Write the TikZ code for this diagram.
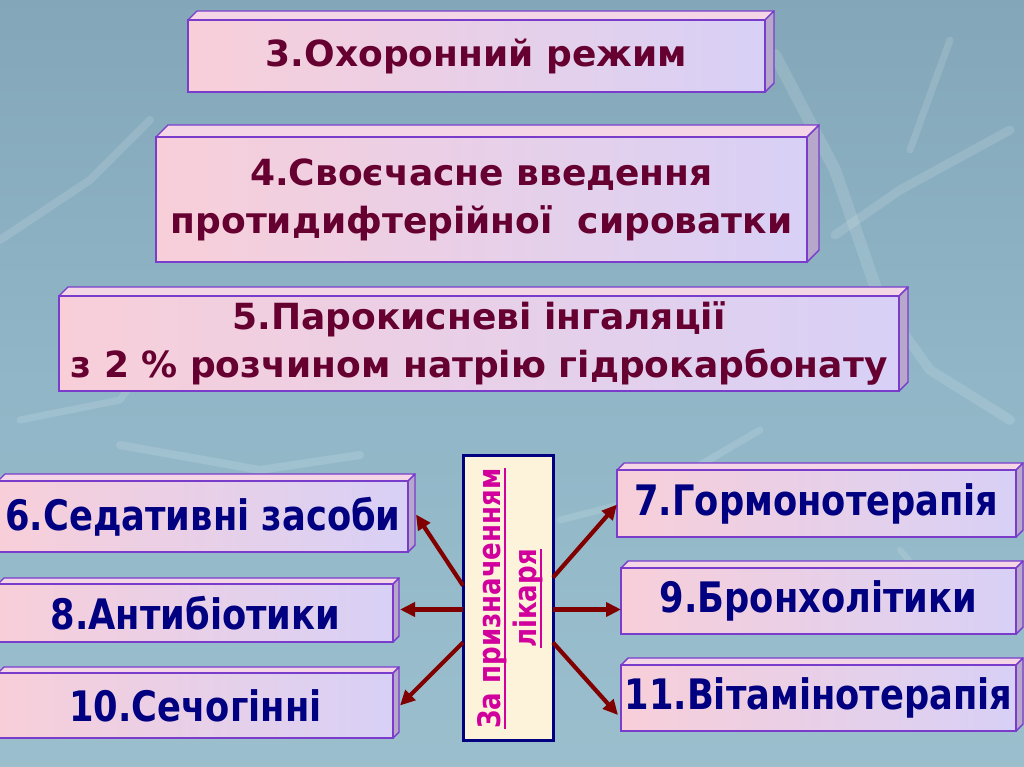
\documentclass[tikz,border=0pt]{standalone}
\usepackage{fontspec}
\setmainfont{DejaVu Sans}[FakeStretch=0.84]
\newfontfamily\topfont{DejaVu Sans}
\usetikzlibrary{arrows.meta,calc}
\definecolor{bgtop}{HTML}{4E6877}
\definecolor{bgupper}{HTML}{7A9CAE}
\definecolor{bgmid}{HTML}{90B6C7}
\definecolor{bglow}{HTML}{A4C6D2}
\definecolor{bgband}{HTML}{8A9EA6}
\definecolor{bgbot}{HTML}{5E707A}
\definecolor{facepink}{HTML}{F8CFD9}
\definecolor{facelav}{HTML}{D8D0F6}
\definecolor{toppink}{HTML}{F4D6E6}
\definecolor{sidegrey}{HTML}{B7A7CB}
\definecolor{edgepurple}{HTML}{7A3CCB}
\definecolor{maroontext}{HTML}{650030}
\definecolor{navytext}{HTML}{000080}
\definecolor{arrowred}{HTML}{800000}
\definecolor{cream}{HTML}{FCF3DA}
\definecolor{magtext}{HTML}{D1009C}
\pgfdeclareverticalshading{bgshade}{100bp}{color(0bp)=(bgbot); color(2.4bp)=(bgband); color(3.2bp)=(bglow); color(50bp)=(bgmid); color(93bp)=(bgupper); color(100bp)=(bgtop)}
\newcommand{\thickul}[1]{\setbox0=\hbox{#1}\leavevmode\rlap{\rule[-0.2em]{\wd0}{0.075em}}\box0}
\tikzset{
  slabface/.style={draw=edgepurple, line width=1.4pt, left color=facepink, right color=facelav, inner sep=0pt, outer sep=0pt, align=center},
  slabtop/.style={draw=edgepurple, line width=1.4pt, fill=toppink, line join=round},
  slabside/.style={draw=edgepurple, line width=1.4pt, fill=sidegrey, line join=round},
  toptext/.style={text=maroontext, font=\topfont\bfseries\fontsize{36}{48}\selectfont},
  sidetext/.style={text=navytext, font=\bfseries\fontsize{42}{50}\selectfont},
  arr/.style={draw=arrowred, line width=4.2pt, -{Triangle[length=15pt,width=14pt]}},
  streak/.style={draw=white, opacity=0.13, line cap=round, line join=round},
}
% name, x1, y1, x2, y2, depth, style, text
\newcommand{\slabbox}[8]{%
  \fill[slabtop] (#2,#3) -- ++(#6,-#6) -- ($(#4,#3)+(#6,-#6)$) -- (#4,#3) -- cycle;
  \fill[slabside] (#4,#3) -- ++(#6,-#6) -- ($(#4,#5)+(#6,-#6)$) -- (#4,#5) -- cycle;
  \node[slabface, #7, minimum width={#4-(#2)}, minimum height={#5-(#3)}] (#1) at ({(#2+#4)/2},{(#3+#5)/2}) {#8};
}
\begin{document}
\begin{tikzpicture}[x=1pt,y=-1pt]
\useasboundingbox (0,0) rectangle (1024,767);
\shade[shading=bgshade] (0,0) rectangle (1024,767);
% faint background streaks
\draw[streak, line width=12pt] (775,55) -- (835,170) -- (880,300);
\draw[streak, line width=9pt] (1010,130) -- (900,190) -- (835,235);
\draw[streak, line width=7pt] (950,40) -- (910,150);
\draw[streak, line width=10pt] (880,300) -- (930,370) -- (1010,420);
\draw[streak, line width=8pt] (0,240) -- (90,180) -- (150,120);
\draw[streak, line width=7pt] (20,420) -- (120,400) -- (170,330);
\draw[streak, line width=8pt] (120,445) -- (260,470) -- (360,455);
\draw[streak, line width=7pt] (560,520) -- (640,500) -- (760,430);
\draw[streak, line width=6pt] (900,550) -- (960,620);

\slabbox{b3}{188}{20}{765}{92}{9}{toptext}{3.Охоронний режим}
\slabbox{b4}{156}{137}{807}{262}{12}{toptext}{4.Своєчасне введення\\протидифтерійної\ \ сироватки}
\slabbox{b5}{59}{296}{899}{391}{9}{toptext}{5.Парокисневі інгаляції\\з 2 \% розчином натрію гідрокарбонату}
\slabbox{b6}{-2}{481}{408}{552}{7}{sidetext}{6.Седативні засоби}
\slabbox{b8}{-2}{584}{393}{642}{6}{sidetext}{8.Антибіотики}
\slabbox{b10}{-2}{673}{393}{738}{6}{sidetext}{10.Сечогінні}
\slabbox{b7}{617}{470}{1016}{537}{7}{sidetext}{7.Гормонотерапія}
\slabbox{b9}{621}{568}{1016}{634}{7}{sidetext}{9.Бронхолітики}
\slabbox{b11}{621}{665}{1016}{731}{7}{sidetext}{11.Вітамінотерапія}

\node[draw=navytext, line width=3pt, fill=cream, minimum width=90, minimum height=285, inner sep=0pt, outer sep=0pt] (c) at (508,597.5) {};
\node[rotate=90, align=center, text=magtext, font=\bfseries\fontsize{31}{36}\selectfont] (ct) at ($(c.center)+(2,1)$) {\thickul{За призначенням}\\\thickul{лікаря}};

\coordinate (cl1) at ($(c.west)+(0,-12)$);
\coordinate (cl2) at ($(c.west)+(0,12)$);
\coordinate (cl3) at ($(c.west)+(0,45)$);
\coordinate (cr1) at ($(c.east)+(0,-20)$);
\coordinate (cr2) at ($(c.east)+(0,12)$);
\coordinate (cr3) at ($(c.east)+(0,45)$);
\draw[arr] (cl1) -- ($(b6.east)+(8,-2)$);
\draw[arr] (cl2) -- ($(cl2 -| b8.east)+(7,0)$);
\draw[arr] (cl3) -- ($(b10.east)+(7,0)$);
\draw[arr] (cr1) -- ($(b7.west)+(0,1)$);
\draw[arr] (cr2) -- (cr2 -| b9.west);
\draw[arr] (cr3) -- ($(b11.west)+(-3,17)$);
\end{tikzpicture}
\end{document}
